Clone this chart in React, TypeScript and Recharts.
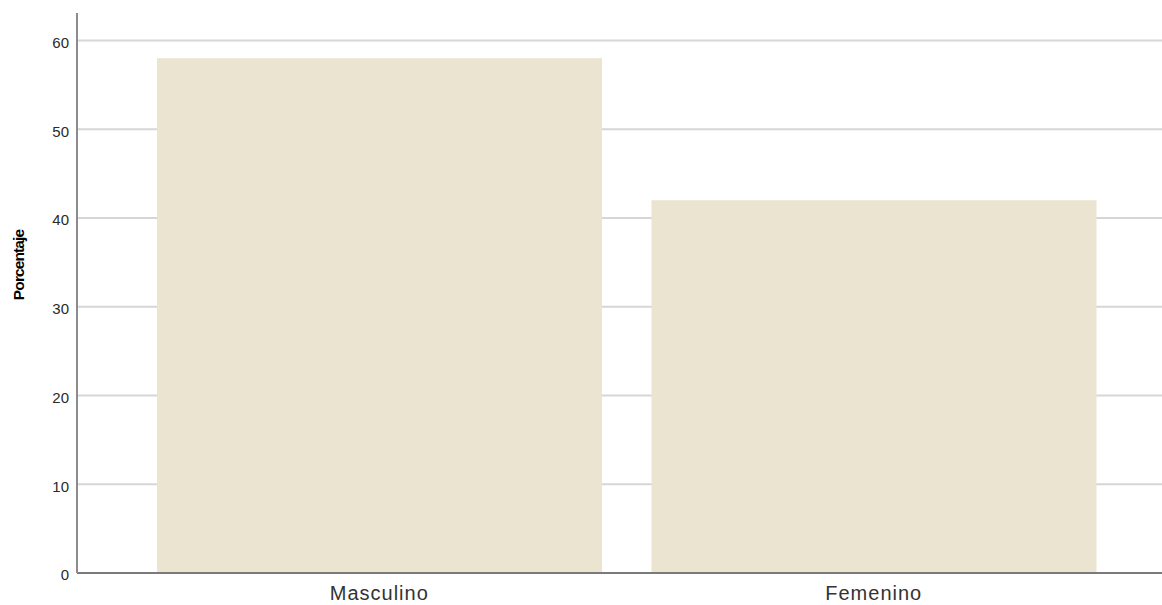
import { BarChart, Bar, XAxis, YAxis, CartesianGrid } from "recharts";

const categories = ["Masculino", "Femenino"];
const porcentaje = [58.0, 42.0];
const yTicks = [0, 10, 20, 30, 40, 50, 60];

const data = categories.map((c, i) => ({ sexo: c, pct: porcentaje[i] }));

const FONT = "'Liberation Sans', Arial, sans-serif";

const YLabel = ({ viewBox }: any) => {
  const x = viewBox.x + 18;
  const y = 265;
  return (
    <text
      x={x}
      y={y}
      transform={`rotate(-90, ${x}, ${y})`}
      textAnchor="middle"
      dominantBaseline="central"
      fontFamily={FONT}
      fontWeight="bold"
      fontSize={15.5}
      letterSpacing={-0.9}
      fill="#000"
    >
      Porcentaje
    </text>
  );
};

export default function App() {
  return (
    <div style={{ position: "absolute", left: 0, top: 0, width: 1162, height: 605, background: "#fff" }}>
      <BarChart
        width={1162}
        height={605}
        data={data}
        margin={{ top: 13, right: 0, bottom: 0, left: 0 }}
        barCategoryGap={25}
      >
        <CartesianGrid vertical={false} syncWithTicks stroke="#d6d6d6" strokeWidth={2} />
        <XAxis
          dataKey="sexo"
          height={32}
          padding={{ left: 55, right: 41 }}
          tickLine={false}
          tickSize={8}
          tickMargin={5}
          stroke="#7a7a7a"
          strokeWidth={2}
          tick={{ fill: "#333", fontSize: 20, fontFamily: FONT, letterSpacing: 1 }}
        />
        <YAxis
          width={77}
          domain={[0, 63.1]}
          ticks={yTicks}
          tickLine={false}
          tickSize={6}
          tickMargin={2}
          stroke="#8c8c8c"
          strokeWidth={2}
          tick={{ fill: "#2a2a2a", fontSize: 15, fontFamily: FONT, dy: 2 }}
          label={<YLabel />}
        />
        <Bar dataKey="pct" fill="#eae4d0" isAnimationActive={false} />
      </BarChart>
    </div>
  );
}
